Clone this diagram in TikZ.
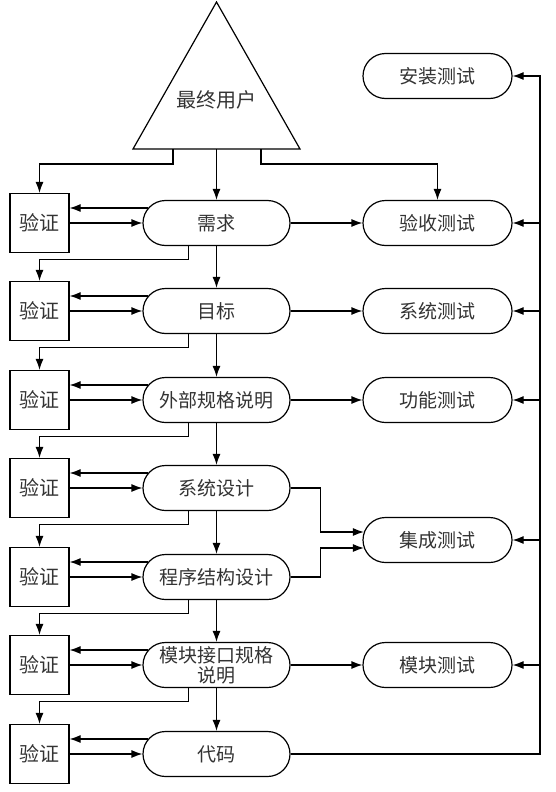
\documentclass[tikz,border=0pt]{standalone}
\usepackage{fontspec}
\setmainfont{Noto Sans CJK SC}
\usetikzlibrary{arrows.meta,calc}
\begin{document}
\begin{tikzpicture}[x=1pt,y=-1pt,
  txt/.style={font=\fontsize{19}{20}\selectfont, text=black!80},
  pill/.style={txt, rectangle, rounded corners=22.5pt, draw, line width=1.2pt,
    minimum width=147pt, minimum height=45pt, inner sep=0pt, align=center},
  chk/.style={txt, font=\fontsize{20}{22}\selectfont, rectangle, draw, line width=1.2pt,
    minimum width=59pt, minimum height=59pt, inner sep=0pt},
  ln/.style={line width=1.2pt},
  arr/.style={ln, -{Latex[length=11pt,width=8pt]}}]
\useasboundingbox (0,0) rectangle (555,792);

% triangle
\coordinate (apex) at (216.5,2);
\coordinate (bl) at (133,149);
\coordinate (br) at (300,149);
\draw[ln, line join=miter] (apex) -- (bl) -- (br) -- cycle;
\node[txt, font=\fontsize{20}{22}\selectfont] (user) at (216.5,100) {最终用户};

% main column
\node[pill] (req)  at (216.5,223) {需求};
\node[pill] (goal) at (216.5,311) {目标};
\node[pill] (ext)  at (216.5,400) {外部规格说明};
\node[pill] (sysd) at (216.5,488) {系统设计};
\node[pill] (prog) at (216.5,577) {程序结构设计};
\node[pill] (modi) at (216.5,665) {模块接口规格\\说明};
\node[pill] (code) at (216.5,754) {代码};

% check boxes
\node[chk] (v1) at (39.5,223) {验证};
\node[chk] (v2) at (39.5,311) {验证};
\node[chk] (v3) at (39.5,400) {验证};
\node[chk] (v4) at (39.5,488) {验证};
\node[chk] (v5) at (39.5,577) {验证};
\node[chk] (v6) at (39.5,665) {验证};
\node[chk] (v7) at (39.5,754) {验证};

% test column
\node[pill, minimum width=149pt] (inst)  at (437.5,76)  {安装测试};
\node[pill, minimum width=149pt] (acc)   at (437.5,223) {验收测试};
\node[pill, minimum width=149pt] (syst)  at (437.5,311) {系统测试};
\node[pill, minimum width=149pt] (func)  at (437.5,400) {功能测试};
\node[pill, minimum width=149pt] (integ) at (437.5,540) {集成测试};
\node[pill, minimum width=149pt] (modt)  at (437.5,665) {模块测试};

% triangle branches
\coordinate (tl) at (173,149);
\coordinate (tc) at (216.5,149);
\coordinate (tr) at (261,149);
\draw[arr] (tl) -- ++(0,15) -| (v1.north);
\draw[arr] (tc) -- (req.north);
\draw[arr] (tr) -- ++(0,15) -| (acc.north);

% box <-> pill
\foreach \v/\p in {v1/req, v2/goal, v3/ext, v4/sysd, v5/prog, v6/modi, v7/code}{
  \draw[arr] (\v.east) -- (\p.west);
  \draw[arr] ($(\p.west)+(5.7,-15)$) -- ($(\v.east)+(0,-15)$);
}

% down arrows and feedback
\foreach \p/\q/\v in {req/goal/v2, goal/ext/v3, ext/sysd/v4, sysd/prog/v5, prog/modi/v6, modi/code/v7}{
  \draw[arr] (\p.south) -- (\q.north);
  \draw[arr] ($(\p.south)+(-28,0)$) -- ++(0,13) -| (\v.north);
}

% row links
\draw[arr] (req.east) -- (acc.west);
\draw[arr] (goal.east) -- (syst.west);
\draw[arr] (ext.east) -- (func.west);
\draw[arr] (modi.east) -- (modt.west);
\draw[arr] (sysd.east) -- ++(30,0) |- ($(integ.west)+(1.5,-8)$);
\draw[arr] (prog.east) -- ++(30,0) |- ($(integ.west)+(1.5,8)$);

% rail
\coordinate (rail) at (540,754);
\draw[arr] (code.east) -- (rail) |- (inst.east);
\foreach \t in {acc, syst, func, integ, modt}{
  \draw[arr] (rail |- \t.east) -- (\t.east);
}
\end{tikzpicture}
\end{document}
